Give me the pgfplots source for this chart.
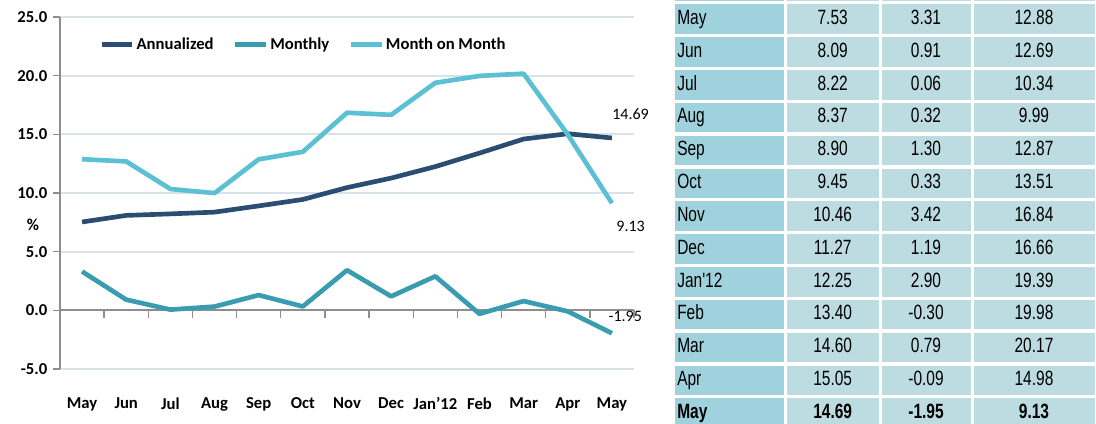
\documentclass[border=0pt]{standalone}
\usepackage{pgfplots}
\pgfplotsset{compat=1.18}
\usepackage{pgfplotstable}
\usepackage{fontspec}
\setmainfont{Carlito}
\newfontfamily\tabfont[FakeStretch=0.75]{Liberation Sans}
\definecolor{annual}{HTML}{2B4D72}
\definecolor{monthly}{HTML}{3A9CB0}
\definecolor{mom}{HTML}{5CC0D4}
\definecolor{gridc}{HTML}{D8E2E9}
\definecolor{axisc}{HTML}{8E8E8E}
\definecolor{cellA}{HTML}{A0D2DE}
\definecolor{cellB}{HTML}{BCDCE2}
\newcommand\chartfont{\fontsize{12.5}{14}\selectfont\bfseries}

% inflation, %: annualized, monthly, month on month
\pgfplotstableread{
x  ann    mon    mom
0  7.53   3.31   12.88
1  8.09   0.91   12.69
2  8.22   0.06   10.34
3  8.37   0.32   9.99
4  8.90   1.30   12.87
5  9.45   0.33   13.51
6  10.46  3.42   16.84
7  11.27  1.19   16.66
8  12.25  2.90   19.39
9  13.40  -0.30  19.98
10 14.60  0.79   20.17
11 15.05  -0.09  14.98
12 14.69  -1.95  9.13
}\cpi

\begin{document}
\begin{tikzpicture}
\path[use as bounding box] (0pt,0pt) rectangle (822pt,-318pt);
\begin{axis}[
  at={(45pt,-276.75pt)}, anchor=south west,
  scale only axis, width=430.5pt, height=264pt,
  xmin=-0.5, xmax=12.5, ymin=-5, ymax=25,
  clip=false,
  axis y line*=left, axis x line*=bottom,
  x axis line style={draw=none},
  y axis line style={axisc, line width=1.5pt, -},
  xtick={0,...,12},
  xticklabels={May,Jun,Jul,Aug,Sep,Oct,Nov,Dec,Jan'12,Feb,Mar,Apr,May},
  xtick style={draw=none},
  xticklabel style={font=\chartfont, yshift=-13pt},
  ytick={-5,0,...,25},
  ytick style={axisc, line width=1pt},
  tick align=outside, major tick length=5pt,
  yticklabel style={font=\chartfont, xshift=-1pt},
  /pgf/number format/.cd, fixed, fixed zerofill, precision=1, assume math mode=true,
  /pgfplots/.cd,
  ymajorgrids, grid style={gridc, line width=1.5pt},
  ylabel={\%}, ylabel style={font=\chartfont, rotate=-90, anchor=center,
                              at={(axis description cs:-0.047,0.41)}},
  legend style={draw=none, fill=none, at={(0.061,0.955)}, anchor=north west,
                font=\chartfont, nodes={inner sep=1.5pt},
                /tikz/every even column/.append style={column sep=13pt}},
  legend columns=3,
  legend image code/.code={\draw[#1] (0pt,0pt) -- (23pt,0pt);},
  every axis plot/.append style={line width=3.5pt, line join=round, no marks},
]
\draw[axisc, line width=1.5pt] (axis cs:-0.5,0) -- (axis cs:12.5,0);
\pgfplotsinvokeforeach{0.5,1.5,...,12.5}{
  \draw[axisc, line width=1pt] (axis cs:#1,0) -- ++(0pt,-6pt);
}
\addplot[annual] table[x=x, y=ann] {\cpi};
\addlegendentry{Annualized}
\addplot[monthly] table[x=x, y=mon] {\cpi};
\addlegendentry{Monthly}
\addplot[mom] table[x=x, y=mom] {\cpi};
\addlegendentry{Month on Month}
\node[font=\fontsize{12}{14}\selectfont] at (axis cs:12,14.69) [xshift=14pt, yshift=18pt] {14.69};
\node[font=\fontsize{12}{14}\selectfont] at (axis cs:12,9.13) [xshift=14pt, yshift=-17pt] {9.13};
\node[font=\fontsize{12}{14}\selectfont] at (axis cs:12,-1.95) [xshift=10pt, yshift=13pt] {-1.95};
\end{axis}

\begin{scope}[x=0.75pt, y=-0.75pt]
  % header row, cut off at the top of the picture
  \fill[cellA] (675,-28.5) rectangle (784,1.5);
  \fill[cellB] (786.5,-28.5) rectangle (879,1.5);
  \fill[cellB] (881.5,-28.5) rectangle (971,1.5);
  \fill[cellB] (974,-28.5) rectangle (1094.6,1.5);
  \foreach \m/\a/\b/\c [count=\i from 0] in {
    May/7.53/3.31/12.88, Jun/8.09/0.91/12.69, Jul/8.22/0.06/10.34,
    Aug/8.37/0.32/9.99, Sep/8.90/1.30/12.87, Oct/9.45/0.33/13.51,
    Nov/10.46/3.42/16.84, Dec/11.27/1.19/16.66, Jan'12/12.25/2.90/19.39,
    Feb/13.40/-0.30/19.98, Mar/14.60/0.79/20.17, Apr/15.05/-0.09/14.98,
    May/14.69/-1.95/9.13}{
    \pgfmathsetmacro\t{4.5+32.83*\i}
    \ifnum\i=12 \def\rw{\bfseries}\else\def\rw{}\fi
    \fill[cellA] (675,\t) rectangle (784,\t+29.5);
    \fill[cellB] (786.5,\t) rectangle (879,\t+29.5);
    \fill[cellB] (881.5,\t) rectangle (971,\t+29.5);
    \fill[cellB] (974,\t) rectangle (1094.6,\t+29.5);
    \begin{scope}[every node/.style={font=\tabfont\fontsize{15.5}{18}\selectfont\rw, inner sep=0pt}]
      \node[anchor=base west] at (677,\t+20) {\m};
      \node[anchor=base] at (832.7,\t+20) {\a};
      \node[anchor=base] at (926,\t+20) {\b};
      \node[anchor=base] at (1034,\t+20) {\c};
    \end{scope}
  }
\end{scope}
\end{tikzpicture}
\end{document}
